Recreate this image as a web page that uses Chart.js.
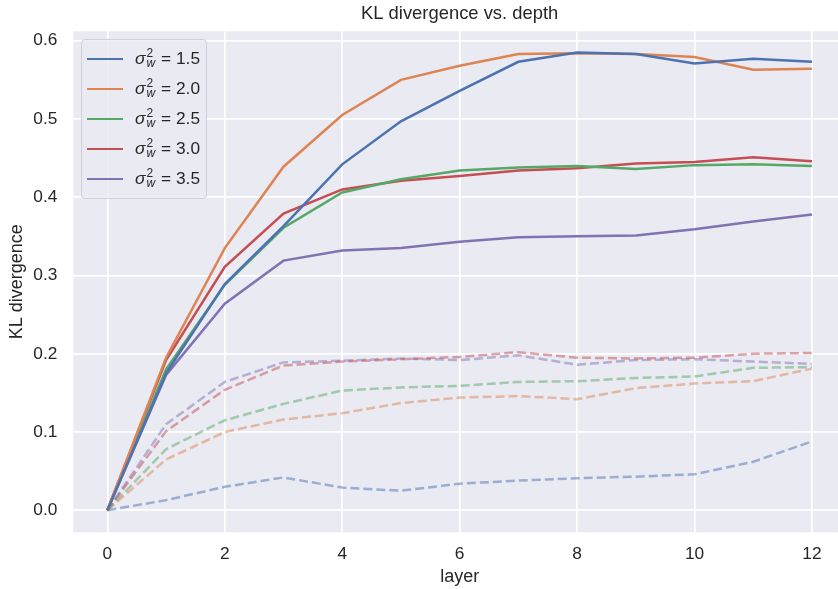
<!DOCTYPE html>
<html>
<head>
<meta charset="utf-8">
<script src="https://cdn.jsdelivr.net/npm/chart.js@4"></script>
<style>
  body { margin: 0; background: #fff; overflow: hidden; }
  #wrap { position: relative; width: 846px; height: 589px; }
  #legend {
    position: absolute;
    box-sizing: border-box;
    width: 126px;
    padding: 4px 0 4px 0;
    background: rgba(234, 234, 242, 0.8);
    border: 1px solid #d0d0d6;
    border-radius: 4px;
    font-family: "Liberation Sans", Arial, sans-serif;
    font-size: 17.3px;
    color: #262626;
  }
  .row { display: flex; align-items: center; height: 30px; }
  .swatch { width: 36px; height: 0; border-top: 2.5px solid; margin: 0 12px 0 5px; }
  .ss { display: inline-block; vertical-align: middle; font-size: 12px; line-height: 10px; margin: -4px 6px 0 1px; }
  .ss span { display: block; }
</style>
</head>
<body>
<div id="wrap">
  <canvas id="chart" width="846" height="589"></canvas>
  <div id="legend"></div>
</div>
<script>
const layers = [0, 1, 2, 3, 4, 5, 6, 7, 8, 9, 10, 11, 12];
const sigmaLabels = ["1.5", "2.0", "2.5", "3.0", "3.5"];
const colors = ["#4C72B0", "#DD8452", "#55A868", "#C44E52", "#8172B3"];

// KL divergence per layer (solid lines)
const kl15 = [0, 0.175, 0.289, 0.363, 0.442, 0.497, 0.536, 0.573, 0.585, 0.583, 0.571, 0.577, 0.573];
const kl20 = [0, 0.195, 0.335, 0.439, 0.505, 0.550, 0.568, 0.583, 0.584, 0.583, 0.579, 0.563, 0.564];
const kl25 = [0, 0.180, 0.288, 0.361, 0.406, 0.423, 0.434, 0.438, 0.440, 0.436, 0.441, 0.442, 0.440];
const kl30 = [0, 0.192, 0.311, 0.379, 0.410, 0.421, 0.427, 0.434, 0.437, 0.443, 0.445, 0.451, 0.446];
const kl35 = [0, 0.173, 0.264, 0.319, 0.332, 0.335, 0.343, 0.349, 0.350, 0.351, 0.359, 0.369, 0.378];

// dashed companion lines
const base15 = [0, 0.013, 0.030, 0.042, 0.029, 0.025, 0.034, 0.038, 0.041, 0.043, 0.046, 0.062, 0.088];
const base20 = [0, 0.065, 0.100, 0.116, 0.124, 0.137, 0.144, 0.146, 0.142, 0.156, 0.162, 0.165, 0.181];
const base25 = [0, 0.078, 0.115, 0.136, 0.153, 0.157, 0.159, 0.164, 0.165, 0.169, 0.171, 0.182, 0.183];
const base30 = [0, 0.101, 0.154, 0.185, 0.190, 0.193, 0.196, 0.202, 0.195, 0.194, 0.195, 0.200, 0.201];
const base35 = [0, 0.110, 0.164, 0.189, 0.191, 0.194, 0.192, 0.198, 0.186, 0.192, 0.193, 0.190, 0.187];

const xTicks = [0, 2, 4, 6, 8, 10, 12];
const yTicks = [0.0, 0.1, 0.2, 0.3, 0.4, 0.5, 0.6];

const solid = [kl15, kl20, kl25, kl30, kl35];
const dashed = [base15, base20, base25, base30, base35];

const toPoints = (vals) => layers.map((l, i) => ({ x: l, y: vals[i] }));
const fade = (hex) => hex + "80";

const datasets = [];
solid.forEach((vals, i) => {
  datasets.push({
    label: "σw2 = " + sigmaLabels[i],
    data: toPoints(vals),
    borderColor: colors[i],
    borderWidth: 2.5,
    pointRadius: 0,
    order: 0,
  });
});
dashed.forEach((vals, i) => {
  datasets.push({
    label: "dashed " + sigmaLabels[i],
    data: toPoints(vals),
    borderColor: fade(colors[i]),
    borderWidth: 2.5,
    borderDash: [9, 4],
    pointRadius: 0,
    order: 1,
  });
});

const font = "'Liberation Sans', Arial, sans-serif";
const ink = "#262626";

const chart = new Chart(document.getElementById("chart"), {
  type: "line",
  data: { datasets },
  options: {
    responsive: false,
    animation: false,
    layout: { padding: 0 },
    plugins: {
      legend: { display: false },
      tooltip: { enabled: false },
      title: {
        display: true,
        text: "KL divergence vs. depth",
        fullSize: false,
        color: ink,
        font: { family: font, size: 18.4, weight: "normal" },
        padding: { top: 2.5, bottom: 6.7 },
      },
    },
    scales: {
      x: {
        type: "linear",
        min: -0.58,
        max: 12.58,
        afterBuildTicks: (s) => { s.ticks = xTicks.map((v) => ({ value: v })); },
        afterFit: (s) => { s.height = 56.7; },
        border: { display: false },
        grid: { color: "#ffffff", lineWidth: 1.7, drawTicks: false },
        ticks: { color: ink, font: { family: font, size: 17.3 }, padding: 12, maxRotation: 0 },
        title: { display: true, text: "layer", color: ink, font: { family: font, size: 18 }, padding: { top: 0, bottom: 1.5 } },
      },
      y: {
        min: -0.0281,
        max: 0.612,
        afterBuildTicks: (s) => { s.ticks = yTicks.map((v) => ({ value: v })); },
        afterFit: (s) => { s.width = 73.3; },
        border: { display: false },
        grid: { color: "#ffffff", lineWidth: 1.7, drawTicks: false },
        ticks: { color: ink, font: { family: font, size: 17.3 }, padding: 16, callback: (v) => v.toFixed(1) },
        title: { display: true, text: "KL divergence", color: ink, font: { family: font, size: 18 }, padding: { top: 6, bottom: 0 } },
      },
    },
  },
  plugins: [{
    id: "bg",
    beforeDraw(c) {
      const { ctx, chartArea: a } = c;
      ctx.save();
      ctx.fillStyle = "#EAEAF2";
      ctx.fillRect(a.left, a.top, a.right - a.left, a.bottom - a.top);
      ctx.restore();
    },
  }],
});

// legend with σ_w^2 notation, built from the solid datasets
const legend = document.getElementById("legend");
legend.style.left = chart.chartArea.left + 7.7 + "px";
legend.style.top = chart.chartArea.top + 7.7 + "px";
sigmaLabels.forEach((lab, i) => {
  const row = document.createElement("div");
  row.className = "row";
  row.innerHTML =
    '<div class="swatch" style="border-color:' + colors[i] + '"></div>' +
    '<span><i>σ</i><span class="ss"><span>2</span><span><i>w</i></span></span>= ' + lab + "</span>";
  legend.appendChild(row);
});
</script>
</body>
</html>
